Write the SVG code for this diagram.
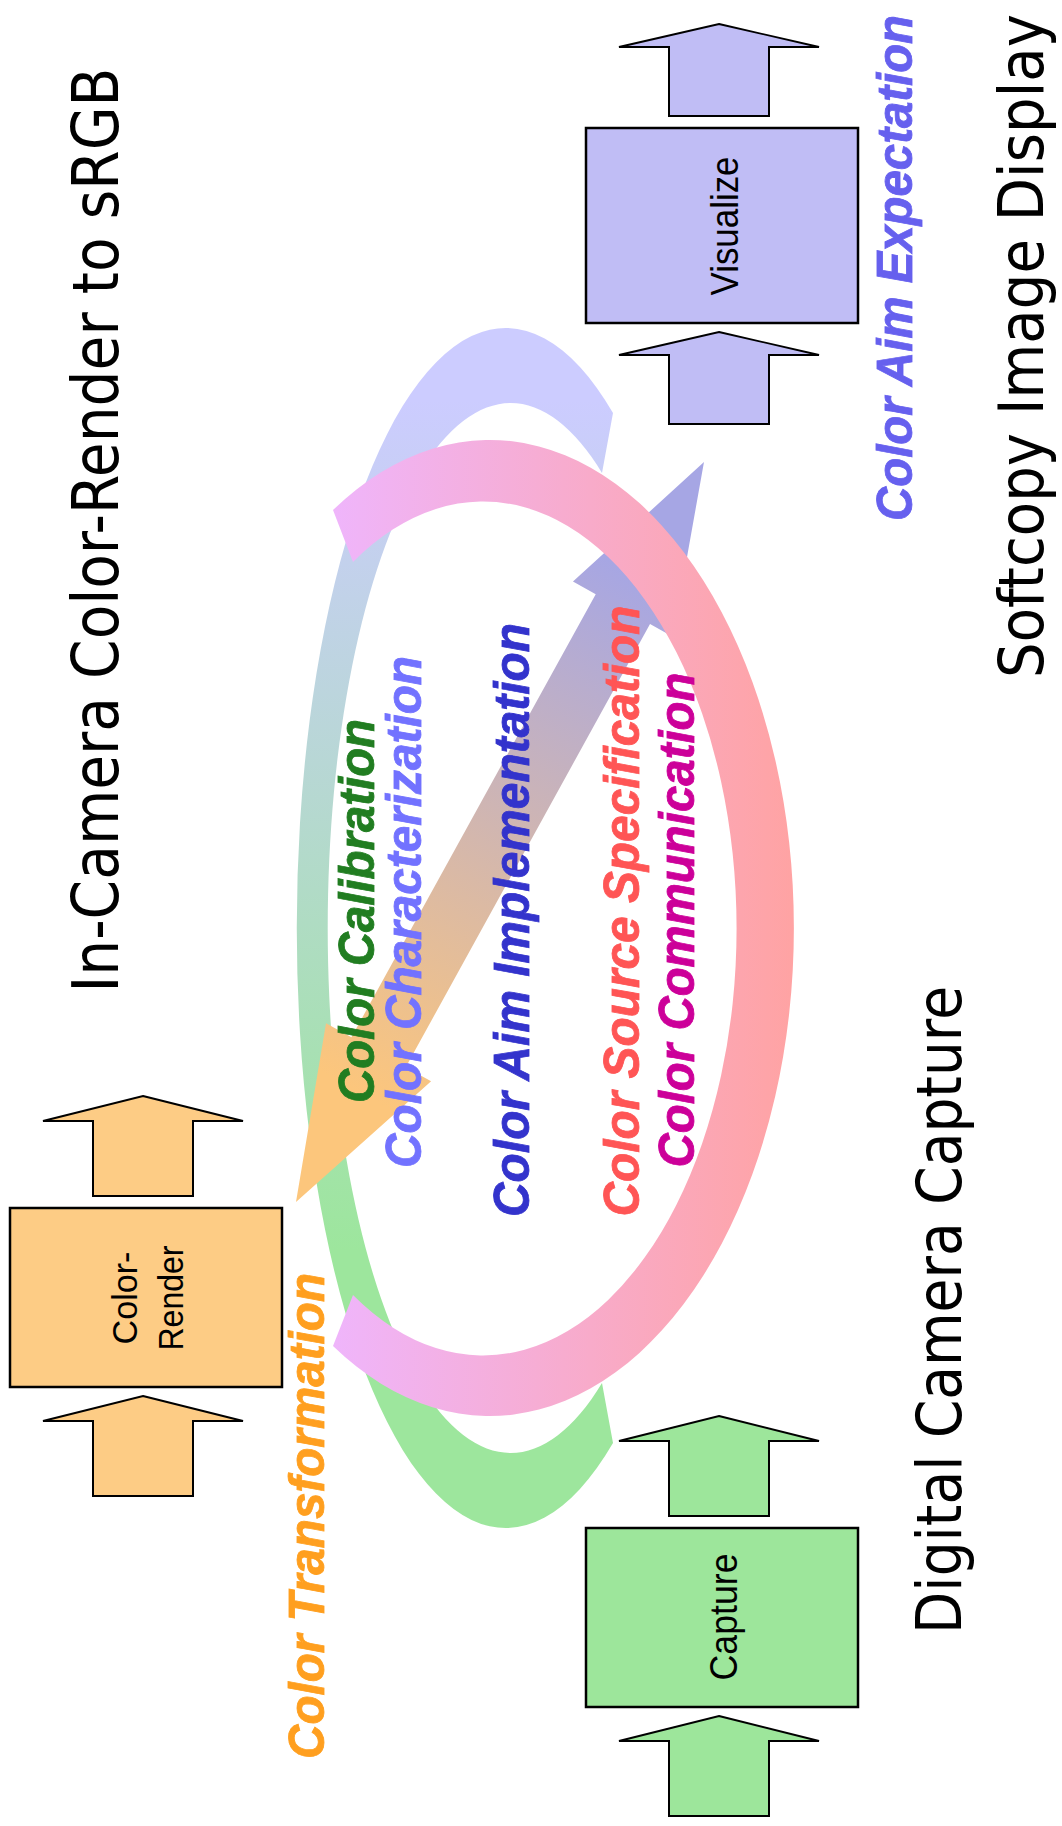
<svg xmlns="http://www.w3.org/2000/svg" width="1062" height="1826" viewBox="0 0 1062 1826">
<defs>
<linearGradient id="gArc" gradientUnits="userSpaceOnUse" x1="0" y1="400" x2="0" y2="1250">
<stop offset="0" stop-color="#CCCCFF"/>
<stop offset="1" stop-color="#9DE69D"/>
</linearGradient>
<linearGradient id="gRing" gradientUnits="userSpaceOnUse" x1="333" y1="0" x2="794" y2="0">
<stop offset="0" stop-color="#EFB5FB"/>
<stop offset="1" stop-color="#FFA3A3"/>
</linearGradient>
<linearGradient id="gDbl" gradientUnits="userSpaceOnUse" x1="0" y1="0" x2="845" y2="0">
<stop offset="0.15" stop-color="#FCC67C"/>
<stop offset="0.85" stop-color="#A6A6E4"/>
</linearGradient>
<path id="blk" d="M0,0 L100,25 L50,25 L50,100 L-50,100 L-50,25 L-100,25 Z"/>
</defs>
<style>
.blk{stroke:#000;stroke-width:2;stroke-linejoin:miter}
.box{stroke:#000;stroke-width:2.5}
.or{fill:#FDCC85}
.lv{fill:#C0BDF5}
.gr{fill:#9DE69B}
.big{font-family:"DejaVu Sans",sans-serif;fill:#000}
.lbl{font-family:"Liberation Sans",Arial,sans-serif;fill:#000}
.it{font-family:"Liberation Sans",Arial,sans-serif;font-weight:bold;font-style:italic;font-size:48px;fill:currentColor;stroke:currentColor;stroke-width:0.8}
</style>
<rect width="1062" height="1826" fill="#fff"/>

<g id="connectors">
<path id="arc-loop" fill="url(#gArc)" d="M613,413 A209,600 0 1 0 613,1443 L602,1383 A183,525 0 1 1 602,473 Z"/>
<g id="double-arrow" transform="translate(296,1202) rotate(-61.13)">
<path fill="url(#gDbl)" d="M0,0 L171,-60 L171,-31 L677,-31 L677,-57 L845,0 L677,57 L677,31 L171,31 L171,60 Z"/>
</g>
<path id="ring-loop" fill="url(#gRing)" d="M333,510 A304,488 0 1 1 333,1346 L353,1295 A253.5,427 0 1 0 353,562 Z"/>
<use href="#blk" class="blk or" transform="translate(143,1096)"/>
<use href="#blk" class="blk or" transform="translate(143,1396)"/>
<g transform="translate(719,24) scale(1,0.92)"><use href="#blk" class="blk lv"/></g>
<g transform="translate(719,332) scale(1,0.92)"><use href="#blk" class="blk lv"/></g>
<use href="#blk" class="blk gr" transform="translate(719,1416)"/>
<use href="#blk" class="blk gr" transform="translate(719,1716)"/>
</g>

<g id="node-color-render">
<rect class="box or" x="10" y="1208" width="272" height="179"/>
<text class="lbl" font-size="35" text-anchor="middle" transform="translate(137,1298) rotate(-90)" textLength="93" lengthAdjust="spacingAndGlyphs">Color-</text>
<text class="lbl" font-size="35" text-anchor="middle" transform="translate(183,1298) rotate(-90)" textLength="105" lengthAdjust="spacingAndGlyphs">Render</text>
</g>
<g id="node-visualize">
<rect class="box lv" x="586" y="128" width="272" height="195"/>
<text class="lbl" font-size="38" text-anchor="middle" transform="translate(738,226) rotate(-90)" textLength="139" lengthAdjust="spacingAndGlyphs">Visualize</text>
</g>
<g id="node-capture">
<rect class="box gr" x="586" y="1528" width="272" height="179"/>
<text class="lbl" font-size="38" text-anchor="middle" transform="translate(737,1617) rotate(-90)" textLength="127" lengthAdjust="spacingAndGlyphs">Capture</text>
</g>

<g id="titles">
<text class="big" font-size="56.3" text-anchor="middle" transform="translate(118,530) rotate(-90) scale(1,1.137)" textLength="925" lengthAdjust="spacingAndGlyphs">In-Camera Color-Render to sRGB</text>
<text class="big" font-size="56.1" text-anchor="middle" transform="translate(1043,346) rotate(-90) scale(1,1.105)" textLength="664" lengthAdjust="spacingAndGlyphs">Softcopy Image Display</text>
<text class="big" font-size="54.9" text-anchor="middle" transform="translate(961,1310) rotate(-90) scale(1,1.129)" textLength="648" lengthAdjust="spacingAndGlyphs">Digital Camera Capture</text>
</g>

<g id="labels">
<text class="it" color="#217D21" text-anchor="middle" transform="translate(374,911) rotate(-90) scale(1,1.04)" textLength="384" lengthAdjust="spacingAndGlyphs">Color Calibration</text>
<text class="it" color="#7272FF" text-anchor="middle" transform="translate(421,912) rotate(-90) scale(1,1.04)" textLength="512" lengthAdjust="spacingAndGlyphs">Color Characterization</text>
<text class="it" color="#3333CC" text-anchor="middle" transform="translate(529,920) rotate(-90) scale(1,1.04)" textLength="594" lengthAdjust="spacingAndGlyphs">Color Aim Implementation</text>
<text class="it" color="#FF5555" text-anchor="middle" transform="translate(639,911) rotate(-90) scale(1,1.04)" textLength="611" lengthAdjust="spacingAndGlyphs">Color Source Specification</text>
<text class="it" color="#CC0099" text-anchor="middle" transform="translate(694,920) rotate(-90) scale(1,1.04)" textLength="495" lengthAdjust="spacingAndGlyphs">Color Communication</text>
<text class="it" color="#FF9F1F" text-anchor="middle" transform="translate(324,1516) rotate(-90) scale(1,1.04)" textLength="486" lengthAdjust="spacingAndGlyphs">Color Transformation</text>
<text class="it" color="#6660EE" text-anchor="middle" font-size="47.4" transform="translate(912,268) rotate(-90) scale(1,1.05)" textLength="506" lengthAdjust="spacingAndGlyphs">Color Aim Expectation</text>
</g>
</svg>
